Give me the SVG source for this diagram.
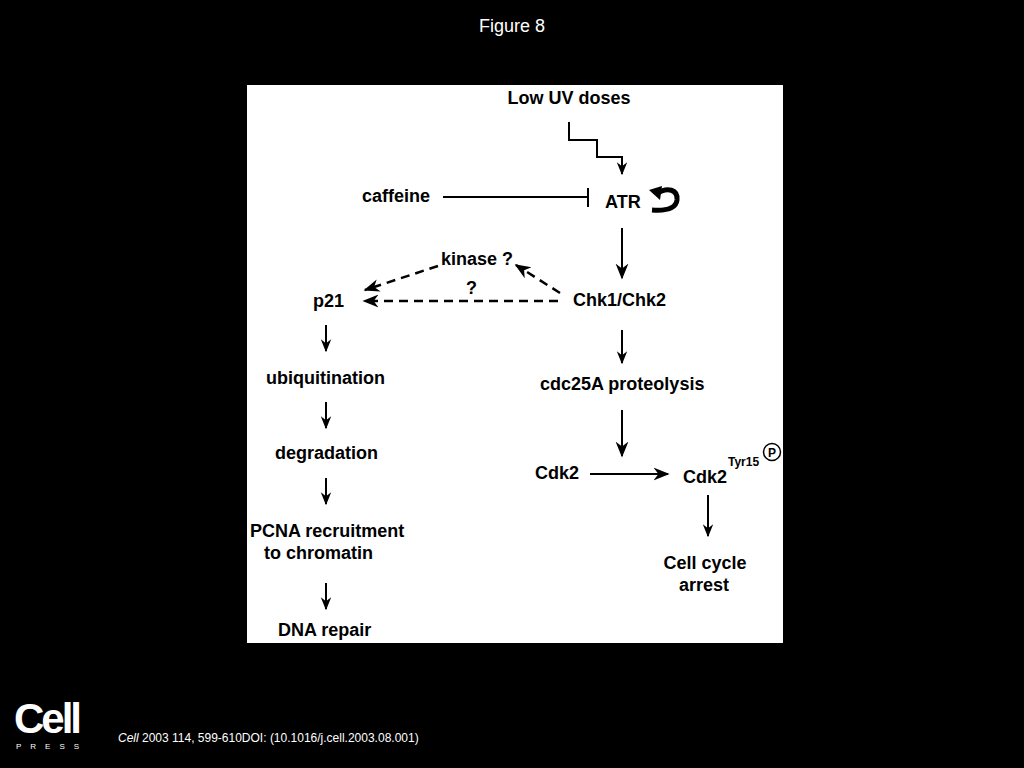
<svg xmlns="http://www.w3.org/2000/svg" width="1024" height="768" viewBox="0 0 1024 768">
<style>
.t{font-family:"Liberation Sans",Arial,sans-serif;font-weight:bold;font-size:18px;fill:#000}
.l{stroke:#000;stroke-width:2;fill:none}
.d{stroke:#000;stroke-width:2.5;fill:none;stroke-dasharray:9,6}
</style>
<defs>
<marker id="a" viewBox="0 0 20 20" refX="18" refY="10" markerWidth="13" markerHeight="13" markerUnits="userSpaceOnUse" orient="auto">
<path d="M0,2 L20,10 L0,18 L6,10 Z" fill="#000"/>
</marker>
<marker id="b" viewBox="0 0 20 20" refX="18" refY="10" markerWidth="16" markerHeight="16" markerUnits="userSpaceOnUse" orient="auto">
<path d="M0,2 L20,10 L0,18 L6,10 Z" fill="#000"/>
</marker>
</defs>
<rect width="1024" height="768" fill="#000"/>
<text x="512" y="32" text-anchor="middle" font-family="Liberation Sans,Arial,sans-serif" font-size="18" fill="#fff">Figure 8</text>
<rect x="247" y="85" width="536" height="558" fill="#fff"/>
<g id="nodes">
<g id="lowuv"><text class="t" x="569" y="104" text-anchor="middle">Low UV doses</text></g>
<g id="caffeine"><text class="t" x="362" y="202">caffeine</text></g>
<g id="atr"><text class="t" x="605" y="208">ATR</text>
<path d="M656,194 C668,186 678,190 677,200 C676,208 666,211 652,210" stroke="#000" stroke-width="5" fill="none"/>
<path d="M649,190 L662,186 L660,200 Z" fill="#000"/></g>
<g id="kinase"><text class="t" x="441" y="265">kinase ?</text></g>
<g id="q"><text class="t" x="466" y="294">?</text></g>
<g id="p21"><text class="t" x="313" y="307">p21</text></g>
<g id="chk"><text class="t" x="573" y="306">Chk1/Chk2</text></g>
<g id="ubi"><text class="t" x="266" y="384">ubiquitination</text></g>
<g id="deg"><text class="t" x="275" y="459">degradation</text></g>
<g id="pcna"><text class="t" x="250" y="537">PCNA recruitment</text><text class="t" x="264" y="559">to chromatin</text></g>
<g id="dna"><text class="t" x="278" y="636">DNA repair</text></g>
<g id="cdc"><text class="t" x="540" y="390">cdc25A proteolysis</text></g>
<g id="cdk2a"><text class="t" x="535" y="479">Cdk2</text></g>
<g id="cdk2b"><text class="t" x="683" y="483">Cdk2</text>
<text x="728" y="466" font-family="Liberation Sans,Arial,sans-serif" font-weight="bold" font-size="12">Tyr15</text>
<circle cx="772" cy="452" r="8.5" fill="none" stroke="#000" stroke-width="1.5"/>
<text x="772" y="456.5" text-anchor="middle" font-family="Liberation Sans,Arial,sans-serif" font-weight="bold" font-size="12">P</text></g>
<g id="arrest"><text class="t" x="705" y="569" text-anchor="middle">Cell cycle</text><text class="t" x="704" y="591" text-anchor="middle">arrest</text></g>
</g>
<g id="connectors">
<polyline class="l" points="569,122 569,140 597,140 597,157 622,157 622,174" marker-end="url(#a)"/>
<line class="l" x1="443" y1="197" x2="588" y2="197"/>
<line class="l" x1="588" y1="188" x2="588" y2="207"/>
<line class="l" x1="622" y1="228" x2="622" y2="278" marker-end="url(#b)"/>
<line class="d" x1="438" y1="266" x2="365" y2="290" marker-end="url(#b)"/>
<line class="d" x1="560" y1="293" x2="516" y2="265" marker-end="url(#b)"/>
<line class="d" x1="558" y1="301" x2="364" y2="301" marker-end="url(#b)"/>
<line class="l" x1="326" y1="325" x2="326" y2="351" marker-end="url(#a)"/>
<line class="l" x1="326" y1="402" x2="326" y2="428" marker-end="url(#a)"/>
<line class="l" x1="326" y1="478" x2="326" y2="504" marker-end="url(#a)"/>
<line class="l" x1="326" y1="583" x2="326" y2="609" marker-end="url(#a)"/>
<line class="l" x1="622" y1="330" x2="622" y2="363" marker-end="url(#a)"/>
<line class="l" x1="622" y1="410" x2="622" y2="456" marker-end="url(#b)"/>
<line class="l" x1="590" y1="474" x2="668" y2="474" marker-end="url(#b)"/>
<line class="l" x1="708" y1="495" x2="708" y2="536" marker-end="url(#a)"/>
</g>
<text x="14" y="733" font-family="Liberation Sans,Arial,sans-serif" font-weight="bold" font-size="42" fill="#fff" letter-spacing="-3">Cell</text>
<text x="16" y="749" font-family="Liberation Sans,Arial,sans-serif" font-size="8" fill="#fff" letter-spacing="9">PRESS</text>
<text x="118" y="742" font-family="Liberation Sans,Arial,sans-serif" font-size="12" fill="#fff"><tspan font-style="italic">Cell</tspan> 2003 114, 599-610DOI: (10.1016/j.cell.2003.08.001)</text>
</svg>
